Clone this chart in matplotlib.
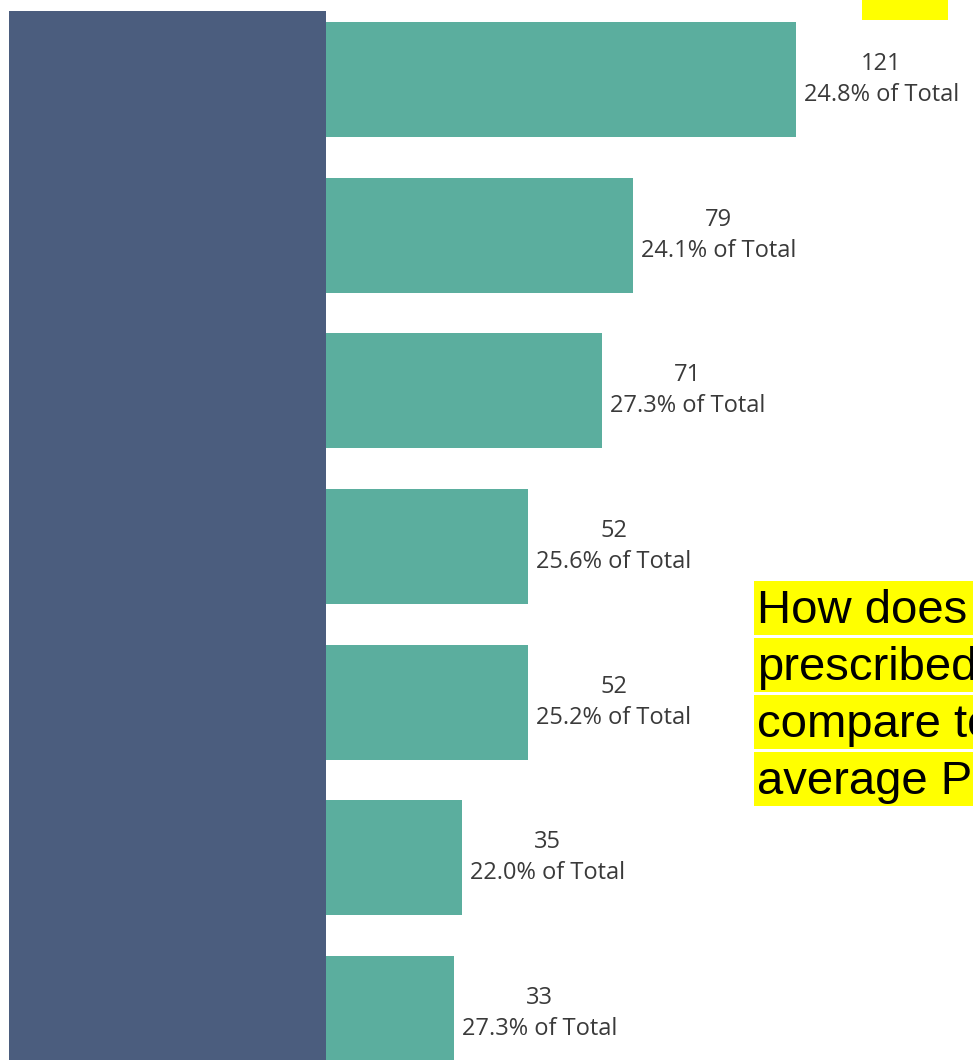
import matplotlib
matplotlib.use("Agg")
import matplotlib.pyplot as plt
from matplotlib.patches import Rectangle

categories = ["Row 1", "Row 2", "Row 3", "Row 4", "Row 5", "Row 6", "Row 7"]
values = [121, 79, 71, 52, 52, 35, 33]
pct_of_total = ["24.8%", "24.1%", "27.3%", "25.6%", "25.2%", "22.0%", "27.3%"]
question_lines = ["How does", "prescribed", "compare to", "average P"]

W, H = 973, 1060
fig = plt.figure(figsize=(W / 100, H / 100), dpi=100)
fig.patch.set_facecolor("white")

# dark header panel
fig.patches.append(Rectangle((9 / W, 0), (326 - 9) / W, (H - 11) / H,
                             transform=fig.transFigure, facecolor="#4B5D7E",
                             edgecolor="none", zorder=0))
# yellow box at the top right
fig.patches.append(Rectangle((862 / W, 1 - 20 / H), (948 - 862) / W, 20 / H,
                             transform=fig.transFigure, facecolor="#FFFF00",
                             edgecolor="none", zorder=0))

ax = fig.add_axes([326 / W, 0, (W - 326) / W, 1])
ax.set_facecolor("none")
pos = list(range(len(categories)))
ax.barh(pos, values, height=0.739, color="#5BAE9E", edgecolor="none")
pitch = 155.67
ax.set_ylim(6 + (H - 1013.5) / pitch, -79.5 / pitch)
ax.set_xlim(0, (W - 326) / 3.884)
ax.axis("off")

for p, v, pc in zip(pos, values, pct_of_total):
    ax.annotate(f"{v}\n{pc} of Total", xy=(v, p), xytext=(8, 0),
                textcoords="offset pixels", ha="left", va="center",
                multialignment="center", fontsize=17, family="Open Sans",
                color="#3A3A3A", linespacing=1.4)

# yellow highlighted question text (cut off at right edge)
line_tops = [581, 638, 695, 752]
for top, txt in zip(line_tops, question_lines):
    fig.patches.append(Rectangle((754 / W, 1 - (top + 54) / H), (W - 754) / W, 54 / H,
                                 transform=fig.transFigure, facecolor="#FFFF00",
                                 edgecolor="none", zorder=1))
    fig.text(757 / W, 1 - (top + 30) / H, txt, ha="left", va="center",
             fontsize=34, family="Liberation Sans", color="black", zorder=2)

fig.savefig("out.png", dpi=100)
